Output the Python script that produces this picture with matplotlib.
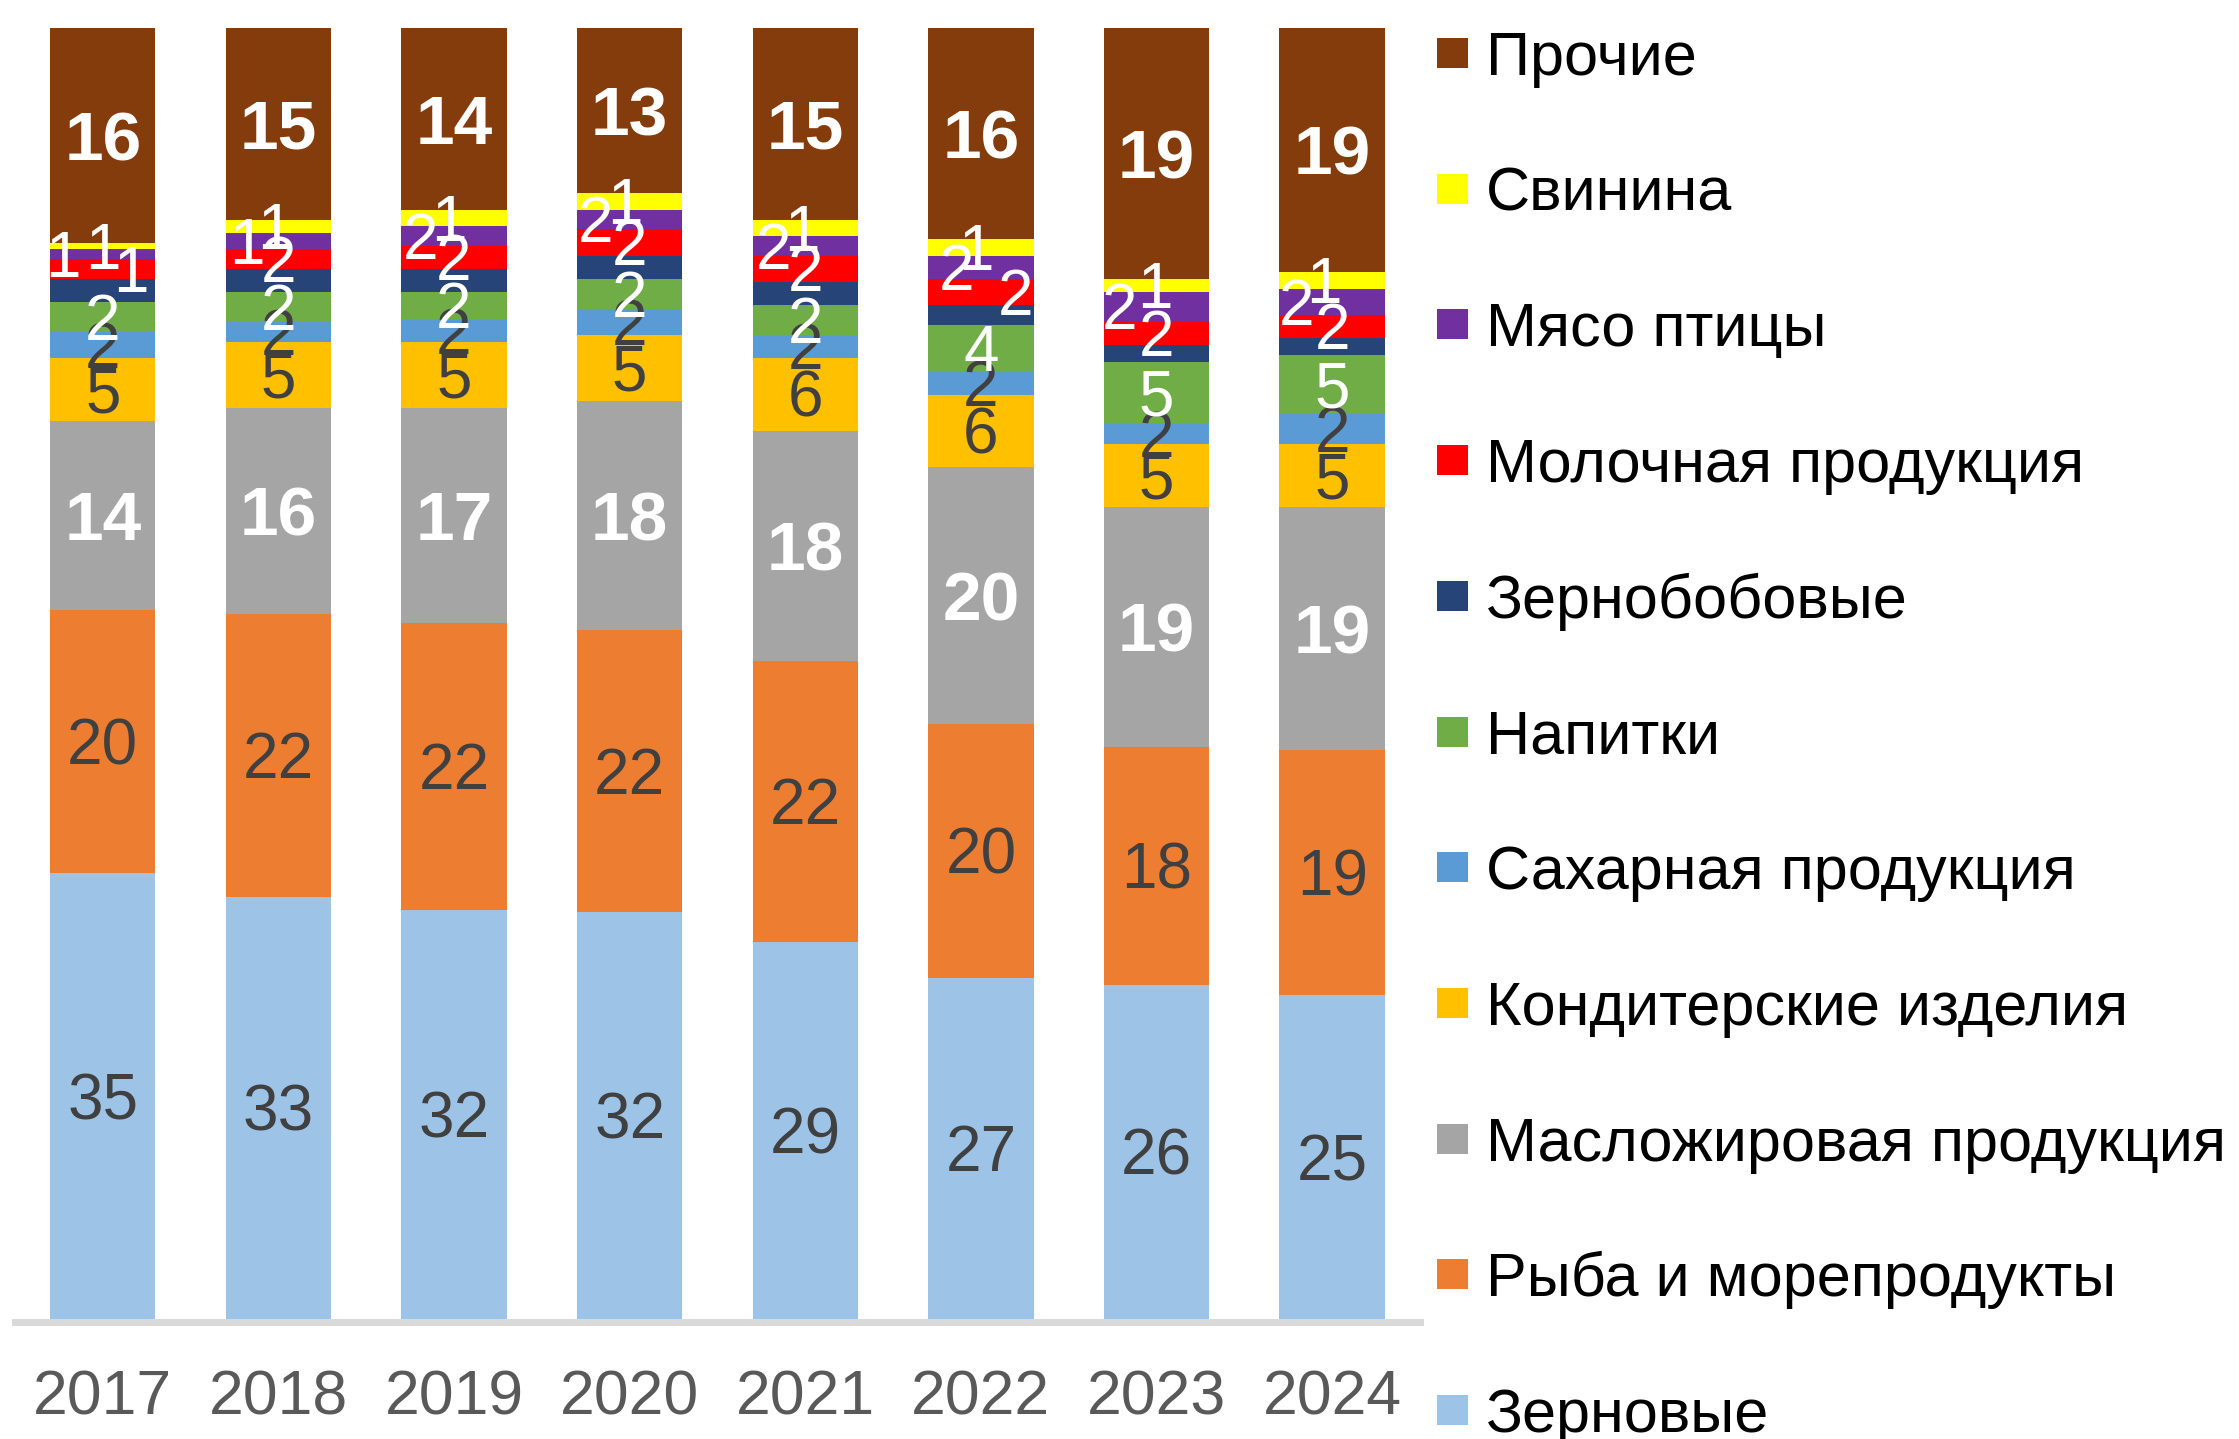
import matplotlib
matplotlib.use("Agg")
import matplotlib.pyplot as plt
from matplotlib.patches import Rectangle
import numpy as np

plt.rcParams['font.family'] = ['Liberation Sans', 'DejaVu Sans']

years = ["2017", "2018", "2019", "2020", "2021", "2022", "2023", "2024"]

# series, bottom to top (shares, %)
series_names = ["Зерновые", "Рыба и морепродукты", "Масложировая продукция",
                "Кондитерские изделия", "Сахарная продукция", "Напитки",
                "Зернобобовые", "Молочная продукция", "Мясо птицы", "Свинина", "Прочие"]

zernovye     = [34.5, 32.7, 31.7, 31.5, 29.2, 26.4, 25.85, 25.07]
ryba         = [20.4, 21.9, 22.2, 21.9, 21.8, 19.7, 18.47, 19.02]
maslo        = [14.66, 15.98, 16.65, 17.7, 17.85, 19.9, 18.57, 18.8]
konditer     = [4.88, 5.11, 5.11, 5.11, 5.65, 5.58, 4.88, 4.88]
sahar        = [2.01, 1.55, 1.76, 2.01, 1.76, 1.86, 1.6, 2.35]
napitki      = [2.32, 2.32, 2.12, 2.32, 2.32, 3.56, 4.78, 4.55]
zernobob     = [1.76, 1.76, 1.76, 1.81, 1.81, 1.55, 1.29, 1.34]
molochnaya   = [1.55, 1.55, 1.81, 2.07, 2.01, 2.01, 1.81, 1.76]
myaso_ptitsy = [0.77, 1.24, 1.53, 1.47, 1.55, 1.81, 2.32, 2.01]
svinina      = [0.49, 1.01, 1.24, 1.34, 1.22, 1.29, 0.98, 1.34]
prochie      = [16.63, 14.87, 14.1, 12.76, 14.87, 16.34, 19.44, 18.88]

# data labels as shown on the chart
lbl_zernovye   = ["35", "33", "32", "32", "29", "27", "26", "25"]
lbl_ryba       = ["20", "22", "22", "22", "22", "20", "18", "19"]
lbl_maslo      = ["14", "16", "17", "18", "18", "20", "19", "19"]
lbl_konditer   = ["5", "5", "5", "5", "6", "6", "5", "5"]
lbl_sahar      = ["2", "2", "2", "2", "2", "2", "2", "2"]
lbl_napitki    = ["2", "2", "2", "2", "2", "4", "5", "5"]
lbl_zernobob   = ["", "", "", "", "", "", "", ""]
lbl_molochnaya = ["1", "2", "2", "2", "2", "2", "2", "2"]
lbl_myaso      = ["1", "1", "2", "2", "2", "2", "2", "2"]
lbl_svinina    = ["1", "1", "1", "1", "1", "1", "1", "1"]
lbl_prochie    = ["16", "15", "14", "13", "15", "16", "19", "19"]

values = [zernovye, ryba, maslo, konditer, sahar, napitki, zernobob,
          molochnaya, myaso_ptitsy, svinina, prochie]
labels = [lbl_zernovye, lbl_ryba, lbl_maslo, lbl_konditer, lbl_sahar, lbl_napitki,
          lbl_zernobob, lbl_molochnaya, lbl_myaso, lbl_svinina, lbl_prochie]

colors = ["#9DC3E6", "#ED7D31", "#A5A5A5", "#FFC000", "#5B9BD5", "#70AD47",
          "#264478", "#FF0000", "#7030A0", "#FFFF00", "#843C0C"]
label_colors = ["#404040", "#404040", "white", "#404040", "#404040", "white",
                "white", "white", "white", "white", "white"]
label_bold = [False, False, True, False, False, False, False, False, False, False, True]

# horizontal label nudges (category units), styling only
nudge = {
    7: [0.16, 0, 0, 0, 0, 0.2, 0, 0],
    8: [-0.23, -0.18, -0.19, -0.195, -0.18, -0.14, -0.21, -0.2],
    9: [0, -0.02, -0.03, -0.03, -0.02, -0.03, -0.01, -0.05],
}

W, H = 2239, 1439
fig = plt.figure(figsize=(W / 100, H / 100), dpi=100)
ax = fig.add_axes([15 / W, 1 - 1319 / H, (1420 - 15) / W, (1319 - 28) / H])

for s in ["top", "left", "right"]:
    ax.spines[s].set_visible(False)
ax.spines["bottom"].set_position(("outward", 2.5))
ax.spines["bottom"].set_color("#D9D9D9")
ax.spines["bottom"].set_linewidth(5)

vals = np.array(values, dtype=float)
vals = vals / vals.sum(axis=0) * 100.0
x = np.arange(len(years))
bottom = np.zeros(len(years))
for i, name in enumerate(series_names):
    ax.bar(x, vals[i], bottom=bottom, width=0.6, color=colors[i], linewidth=0, zorder=2)
    for j in range(len(years)):
        t = labels[i][j]
        if not t:
            continue
        dx = nudge.get(i, [0] * len(years))[j]
        fs = 50 if label_bold[i] else 46
        ax.annotate(t, (x[j] + dx, bottom[j] + vals[i][j] / 2),
                    xytext=(0, -0.358 * fs), textcoords="offset points",
                    ha="center", va="baseline", fontsize=fs,
                    fontweight="bold" if label_bold[i] else "normal",
                    color=label_colors[i], zorder=5)
    bottom += vals[i]

ax.set_xlim(-0.5, len(years) - 0.5)
ax.set_ylim(0, 100)
ax.set_xticks(x)
ax.set_xticklabels(years)
ax.tick_params(axis="x", length=0, pad=33, labelsize=45, labelcolor="#595959")
ax.set_yticks([])
ax.patch.set_alpha(0)

# legend (top to bottom: Прочие ... Зерновые)
for k in range(len(series_names)):
    i = len(series_names) - 1 - k
    yc = 53 + 135.7 * k
    fig.patches.append(Rectangle((1437 / W, 1 - (yc + 15) / H), 31 / W, 30 / H,
                                 transform=fig.transFigure, facecolor=colors[i],
                                 edgecolor="none"))
    fig.text(1486 / W, 1 - (yc + 22) / H, series_names[i], fontsize=44,
             color="black", ha="left", va="baseline")

fig.savefig("out.png", dpi=100)
